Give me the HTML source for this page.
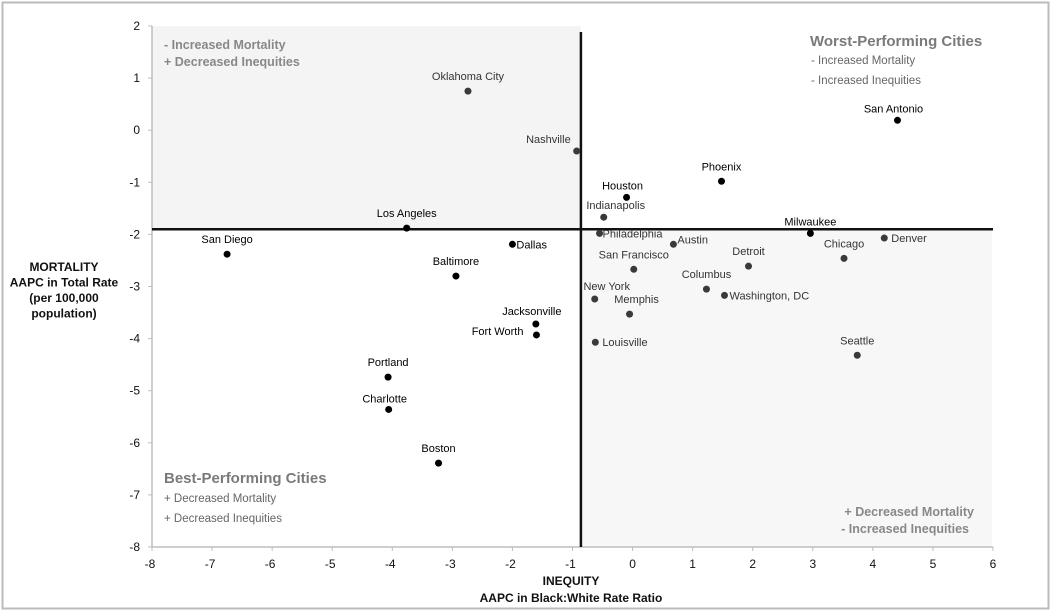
<!DOCTYPE html>
<html><head><meta charset="utf-8"><style>
html,body{margin:0;padding:0;background:#fff;}
svg{display:block;font-family:"Liberation Sans",sans-serif;}
</style></head><body>
<svg id="chart" width="1052" height="612" viewBox="0 0 1052 612"></svg>
<script>
const cities = ["Oklahoma City","Nashville","San Antonio","Phoenix","Houston","Indianapolis","Los Angeles","Milwaukee","Philadelphia","Denver","Austin","Dallas","San Diego","Chicago","Detroit","San Francisco","Baltimore","Columbus","Washington, DC","New York","Memphis","Jacksonville","Fort Worth","Louisville","Seattle","Portland","Charlotte","Boston"];
const inequity = [-2.74,-0.93,4.41,1.48,-0.10,-0.48,-3.76,2.96,-0.55,4.19,0.68,-2.0,-6.75,3.52,1.93,0.02,-2.94,1.23,1.53,-0.63,-0.05,-1.61,-1.60,-0.62,3.74,-4.07,-4.06,-3.23];
const mortality = [0.75,-0.40,0.19,-0.98,-1.29,-1.67,-1.88,-1.98,-1.98,-2.07,-2.19,-2.19,-2.38,-2.46,-2.61,-2.67,-2.80,-3.05,-3.17,-3.24,-3.53,-3.72,-3.93,-4.07,-4.32,-4.74,-5.36,-6.39];
const xTicks = [-8,-7,-6,-5,-4,-3,-2,-1,0,1,2,3,4,5,6];
const yTicks = [2,1,0,-1,-2,-3,-4,-5,-6,-7,-8];
const xCross = [-0.86];
const yCross = [-1.9];

// label placement styles (not data)
const labelPlace = {
 "Oklahoma City":["m",0,-11],"Nashville":["e",-6,-8],"San Antonio":["m",-4,-8],"Phoenix":["m",0,-11],
 "Houston":["m",-4,-8],"Indianapolis":["m",12,-8],"Los Angeles":["m",0,-11],"Milwaukee":["m",0,-8],
 "Philadelphia":["s",3,4],"Denver":["s",7,4],"Austin":["s",4,-1],"Dallas":["s",4,4],"San Diego":["m",0,-11],
 "Chicago":["m",0,-11],"Detroit":["m",0,-11],"San Francisco":["m",0,-11],"Baltimore":["m",0,-11],
 "Columbus":["m",0,-11],"Washington, DC":["s",5,4],"New York":["m",12,-9],"Memphis":["m",7,-11],
 "Jacksonville":["m",-4,-9],"Fort Worth":["e",-13,0],"Louisville":["s",7,4],"Seattle":["m",0,-11],
 "Portland":["m",0,-11],"Charlotte":["m",-4,-7],"Boston":["m",0,-11]
};
const darkPts = ["Oklahoma City","Nashville","Philadelphia","Denver","Austin","Chicago","Detroit","San Francisco","Columbus","Washington, DC","New York","Memphis","Louisville","Seattle","Indianapolis"];

const L=152,R=993,T=26,B=547,xmin=-8,xmax=6,ymin=-8,ymax=2;
const sx=v=>L+(v-xmin)/(xmax-xmin)*(R-L);
const sy=v=>B-(v-ymin)/(ymax-ymin)*(B-T);
const NS="http://www.w3.org/2000/svg";
const svg=document.getElementById('chart');
function mk(tag,attrs,parent){const e=document.createElementNS(NS,tag);for(const k in attrs)e.setAttribute(k,attrs[k]);(parent||svg).appendChild(e);return e;}
function txt(s,attrs,parent){const e=mk('text',attrs,parent);e.textContent=s;return e;}

let e;
e=mk('rect',{x:2.5,y:2.5,width:1046,height:606,fill:'none',stroke:'#bbb','stroke-width':2});



const cx=sx(xCross[0]), cy=sy(yCross[0]);
e=mk('rect',{x:L,y:T,width:cx-L,height:cy-T,fill:'#f4f4f4'});


e=mk('rect',{x:cx,y:cy,width:R-1-cx,height:B-cy,fill:'#f7f7f7'});



// axes
e=mk('line',{x1:L,y1:T,x2:L,y2:B,stroke:'#bdbdbd','stroke-width':1.5});


e=mk('line',{x1:L,y1:B,x2:R,y2:B,stroke:'#bdbdbd','stroke-width':1.5});


xTicks.forEach(v=>{
 e=mk('line',{x1:sx(v),y1:B,x2:sx(v),y2:B+4,stroke:'#bdbdbd'});
 
 
 e=txt(String(v),{x:sx(v)-(v<0?2:0),y:B+21,'text-anchor':'middle','font-size':12,fill:'#111'});
 
 
});
yTicks.forEach(v=>{
 e=mk('line',{x1:L-4,y1:sy(v),x2:L,y2:sy(v),stroke:'#bdbdbd'});
 
 
 e=txt(String(v),{x:L-12,y:sy(v)+4,'text-anchor':'end','font-size':12,fill:'#111'});
 
 
});

// crosshair
e=mk('line',{x1:cx,y1:T+6,x2:cx,y2:B,stroke:'#111','stroke-width':2.5});


e=mk('line',{x1:L,y1:cy,x2:R,y2:cy,stroke:'#111','stroke-width':2.5});



// points
cities.forEach((c,i)=>{
 const px=sx(inequity[i]), py=sy(mortality[i]);
 const dark=darkPts.includes(c);
 e=mk('circle',{cx:px,cy:py,r:3.5,fill:dark?'#3a3a3a':'#000'});
 
 
 const p=labelPlace[c]||["m",0,-11];
 const anchor=p[0]==='m'?'middle':(p[0]==='s'?'start':'end');
 e=txt(c,{x:px+p[1],y:py+p[2],'text-anchor':anchor,'font-size':11,fill:dark?'#333':'#000'});
 
 
});

// quadrant annotations
function ann(s,x,y,size,weight,fill,anchor,name){
 const t=txt(s,{x:x,y:y,'font-size':size,'font-weight':weight,fill:fill,'text-anchor':anchor||'start'});
 
 
}
ann('-  Increased Mortality',164,49,12.5,'bold','#888','start','top-left-annotation-mortality');
ann('+ Decreased Inequities',164,66,12.5,'bold','#888','start','top-left-annotation-inequities');
ann('Worst-Performing Cities',810,46,15,'bold','#7a7a7a','start','worst-performing-title');
ann('- Increased Mortality',811,64,11.5,'normal','#666','start','worst-performing-mortality');
ann('- Increased Inequities',811,84,11.5,'normal','#666','start','worst-performing-inequities');
ann('Best-Performing Cities',164,483,15,'bold','#7a7a7a','start','best-performing-title');
ann('+ Decreased Mortality',164,502,11.5,'normal','#666','start','best-performing-mortality');
ann('+ Decreased Inequities',164,522,11.5,'normal','#666','start','best-performing-inequities');
ann('+ Decreased Mortality',974,516,12.5,'bold','#888','end','bottom-right-annotation-mortality');
ann('- Increased Inequities',969,533,12.5,'bold','#888','end','bottom-right-annotation-inequities');

// axis titles
const yt=['MORTALITY','AAPC in Total Rate','(per 100,000','population)'];
yt.forEach((s,i)=>{
 const t=txt(s,{x:64,y:271+i*15.5,'text-anchor':'middle','font-size':12,'font-weight':'bold',fill:'#111'});
 
 
});
e=txt('INEQUITY',{x:571,y:585,'text-anchor':'middle','font-size':12,'font-weight':'bold',fill:'#111'});


e=txt('AAPC in Black:White Rate Ratio',{x:571,y:602,'text-anchor':'middle','font-size':12,'font-weight':'bold',fill:'#111'});


</script>
</body></html>
